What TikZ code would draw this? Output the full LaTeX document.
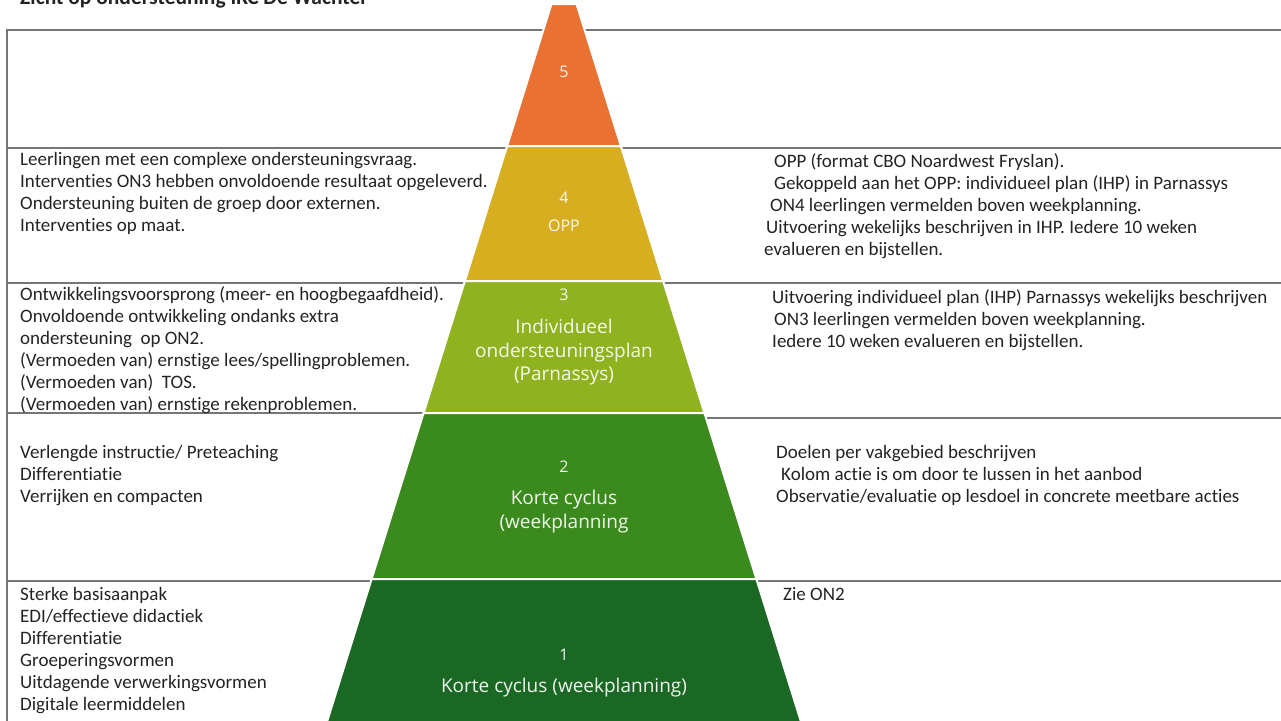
\documentclass[tikz,border=0pt]{standalone}
\usepackage{fontspec}
\setmainfont{Carlito}[Ligatures=NoCommon]
\newfontfamily\lblfont{Open Sans}
\usepackage{tikz}
\definecolor{rulegray}{RGB}{118,118,118}
\definecolor{inktxt}{RGB}{35,35,35}
\definecolor{lvlfive}{RGB}{233,113,50}
\definecolor{lvlfour}{RGB}{214,174,31}
\definecolor{lvlthree}{RGB}{143,178,30}
\definecolor{lvltwo}{RGB}{59,138,30}
\definecolor{lvlone}{RGB}{27,104,36}

\begin{document}
\begin{tikzpicture}[x=1pt,y=-1pt,
    rule/.style={draw=rulegray,line width=2pt},
    layer/.style={draw=white,line width=2pt},
    txt/.style={anchor=base west,align=left,inner sep=0pt,text=inktxt,
      font=\fontsize{19}{22}\selectfont},
    lbl/.style={align=center,inner sep=0pt,text=white,text opacity=0.92,
      font=\lblfont\fontsize{19}{23.5}\selectfont},
    num/.style={lbl,font=\lblfont\fontsize{16}{20}\selectfont}]
    \useasboundingbox (0,0) rectangle (1281,720);
    \clip (0,0) rectangle (1281,720);

    \node[txt,font=\bfseries\fontsize{21.5}{24}\selectfont] (title) at (20,5) {Zicht op ondersteuning IKC De Wachter};

    \draw[rule] (7,740) -- (7,30) -- (1290,30);
    \draw[rule] (7,148) -- (1290,148);
    \draw[rule] (7,283) -- (1290,283);
    \draw[rule] (7,413) -- (564,413);
    \draw[rule] (564,418) -- (1290,418);
    \draw[rule] (7,581) -- (1290,581);

    \filldraw[layer,fill=lvlfive] (551.5,4) -- (576.5,4) -- (620.9,146) -- (507.1,146) -- cycle;
    \filldraw[layer,fill=lvlfour] (507.1,146) -- (620.9,146) -- (663.1,281) -- (464.9,281) -- cycle;
    \filldraw[layer,fill=lvlthree] (464.9,281) -- (663.1,281) -- (704.4,413) -- (423.6,413) -- cycle;
    \filldraw[layer,fill=lvltwo] (423.6,413) -- (704.4,413) -- (756.4,579) -- (371.6,579) -- cycle;
    \filldraw[layer,fill=lvlone] (371.6,579) -- (756.4,579) -- (806.7,740) -- (321.3,740) -- cycle;

    \node[num] (n5) at (564,72) {5};
    \node[num] (n4) at (564,198) {4};
    \node[num] (opp) at (564,226) {OPP};
    \node[num] (n3) at (564,295) {3};
    \node[lbl] (p3) at (564,352.5) {Individueel\\ondersteuningsplan\\(Parnassys)};
    \node[num] (n2) at (564,467) {2};
    \node[lbl] (p2) at (564,511.5) {Korte cyclus\\(weekplanning};
    \node[num] (n1) at (564,655) {1};
    \node[lbl] (p1) at (564,688) {Korte cyclus (weekplanning)};

    \node[txt] (l4) at (20,231) {Leerlingen met een complexe ondersteuningsvraag.\\Interventies ON3 hebben onvoldoende resultaat opgeleverd.\\Ondersteuning buiten de groep door externen.\\Interventies op maat.};
    \node[txt] (l3) at (20,410) {Ontwikkelingsvoorsprong (meer- en hoogbegaafdheid).\\Onvoldoende ontwikkeling ondanks extra\\ondersteuning\ \ op ON2.\\(Vermoeden van) ernstige lees/spellingproblemen.\\(Vermoeden van)\ \ TOS.\\(Vermoeden van) ernstige rekenproblemen.};
    \node[txt] (l2) at (20,502) {Verlengde instructie/ Preteaching\\Differentiatie\\Verrijken en compacten};
    \node[txt] (l1) at (20,710) {Sterke basisaanpak\\EDI/effectieve didactiek\\Differentiatie\\Groeperingsvormen\\Uitdagende verwerkingsvormen\\Digitale leermiddelen};

    \node[txt] (r4) at (764,255) {\hspace*{10pt}OPP (format CBO Noardwest Fryslan).\\\hspace*{10pt}Gekoppeld aan het OPP: individueel plan (IHP) in Parnassys\\\hspace*{6pt}ON4 leerlingen vermelden boven weekplanning.\\\hspace*{2pt}Uitvoering wekelijks beschrijven in IHP. Iedere 10 weken\\evalueren en bijstellen.};
    \node[txt] (r3) at (772,347) {Uitvoering individueel plan (IHP) Parnassys wekelijks beschrijven\\\hspace*{2pt}ON3 leerlingen vermelden boven weekplanning.\\Iedere 10 weken evalueren en bijstellen.};
    \node[txt] (r2) at (776,502) {Doelen per vakgebied beschrijven\\\hspace*{5pt}Kolom actie is om door te lussen in het aanbod\\Observatie/evaluatie op lesdoel in concrete meetbare acties};
    \node[txt] (r1) at (783,600) {Zie ON2};
\end{tikzpicture}
\end{document}
